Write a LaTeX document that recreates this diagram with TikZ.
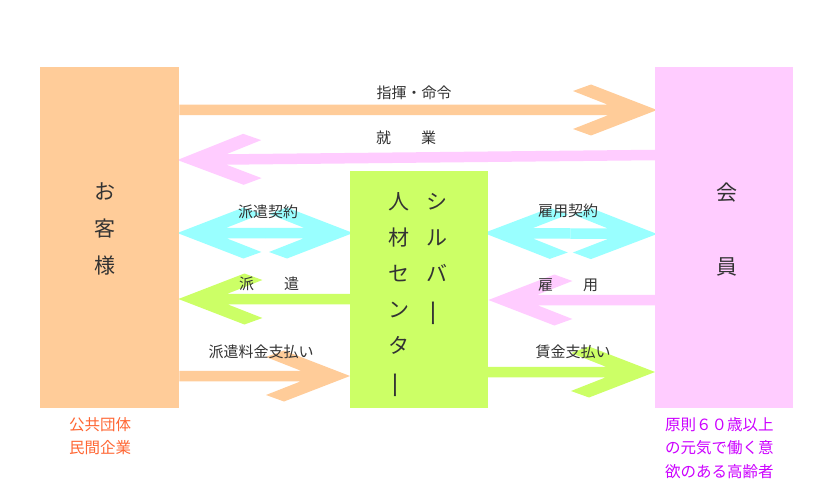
\documentclass[tikz,border=0pt]{standalone}
\usepackage{fontspec}
\setmainfont{Noto Sans CJK JP}
\usepackage{graphicx}
\usetikzlibrary{calc}
\pgfdeclarelayer{back}
\pgfdeclarelayer{arrows}
\pgfsetlayers{back,arrows,main}
\definecolor{peach}{HTML}{FFCC99}
\definecolor{pinkb}{HTML}{FFCCFF}
\definecolor{greenb}{HTML}{CCFF66}
\definecolor{cyanb}{HTML}{99FFFF}
\definecolor{txt}{HTML}{333333}
\definecolor{orangetxt}{HTML}{FF6633}
\definecolor{purpletxt}{HTML}{CC00FF}
% fat arrow: colour, tail coordinate, tip coordinate
\newcommand\fatarr[3]{%
  \fill[#1] ($(#2)!5.25pt!-90:(#3)$)
    -- ($(#3)!49pt!(#2)!5.25pt!90:(#2)$)
    -- ($(#3)!84pt!(#2)!19pt!90:(#2)$)
    -- ($(#3)!66pt!(#2)!25.5pt!90:(#2)$)
    -- (#3)
    -- ($(#3)!66pt!(#2)!25.5pt!-90:(#2)$)
    -- ($(#3)!84pt!(#2)!19pt!-90:(#2)$)
    -- ($(#3)!49pt!(#2)!5.25pt!-90:(#2)$)
    -- ($(#2)!5.25pt!90:(#3)$) -- cycle;}
\newcommand\vbar{\rotatebox[origin=c]{90}{\scalebox{1.35}[1]{ー}}}
\begin{document}
\begin{tikzpicture}[x=1pt,y=-1pt,
  boxst/.style={draw=none,inner sep=0pt,anchor=north west},
  lbl/.style={text=txt,font=\fontsize{15}{18}\selectfont,inner sep=0pt},
  bigtxt/.style={text=txt,font=\fontsize{21}{36}\selectfont,inner sep=0pt,align=center,anchor=north},
  note/.style={font=\fontsize{15.5}{23.5}\selectfont,inner sep=0pt,align=left,anchor=north west}]
\begin{pgfonlayer}{back}
\useasboundingbox[fill=white] (0,0) rectangle (825,500);
\end{pgfonlayer}
% boxes
\node[boxst,fill=peach,minimum width=139pt,minimum height=341pt] (kyaku) at (40,67) {};
\node[boxst,fill=pinkb,minimum width=138pt,minimum height=341pt] (kaiin) at (655,67) {};
\node[boxst,fill=greenb,minimum width=137.5pt,minimum height=237pt] (center) at (350,171) {};
% arrow end points
\coordinate (s1) at ($(kyaku.north east)+(0,43)$);
\coordinate (t1) at ($(kaiin.north west)+(2,43)$);
\coordinate (s2) at ($(kaiin.north west)+(0,88)$);
\coordinate (t2) at ($(kyaku.north east)+(-2,93)$);
\coordinate (l3) at ($(kyaku.north east)+(-2,166)$);
\coordinate (r3) at ($(center.north west)+(3,62)$);
\coordinate (m3) at ($(l3)!.5!(r3)$);
\coordinate (s4) at ($(center.north west)+(0,128)$);
\coordinate (t4) at ($(kyaku.north east)+(-1,232)$);
\coordinate (l5) at ($(center.north east)+(-4,62)$);
\coordinate (r5) at ($(kaiin.north west)+(2,167)$);
\coordinate (m5) at ($(l5)!.5!(r5)$);
\coordinate (s6) at ($(kaiin.north west)+(0,233)$);
\coordinate (t6) at ($(center.north east)+(0.5,129)$);
\coordinate (s7) at ($(kyaku.north east)+(0,309)$);
\coordinate (t7) at ($(center.north west)+(0,205)$);
\coordinate (s8) at ($(center.north east)+(0,201)$);
\coordinate (t8) at ($(kaiin.north west)+(0,305)$);
% arrows (under the boxes)
\begin{pgfonlayer}{arrows}
\fatarr{peach}{s1}{t1}
\fatarr{pinkb}{s2}{t2}
\fatarr{cyanb}{m3}{l3}
\fatarr{cyanb}{m3}{r3}
\fatarr{greenb}{s4}{t4}
\fatarr{cyanb}{m5}{l5}
\fatarr{cyanb}{m5}{r5}
\fatarr{pinkb}{s6}{t6}
\fatarr{peach}{s7}{t7}
\fatarr{greenb}{s8}{t8}
\end{pgfonlayer}
% arrow labels
\node[lbl] (lab1) at (414,93) {指揮・命令};
\node[lbl] (lab2) at (406,138) {就　　業};
\node[lbl] (lab3) at (268,212) {派遣契約};
\node[lbl] (lab5) at (568,211) {雇用契約};
\node[lbl] (lab4) at (269,284) {派　　遣};
\node[lbl] (lab6) at (568,285) {雇　　用};
\node[lbl] (lab7) at (261,352) {派遣料金支払い};
\node[lbl] (lab8) at (573,352) {賃金支払い};
% box texts
\node[bigtxt,font=\fontsize{21}{37}\selectfont] (kyakutxt) at (105,182.5) {お\\客\\様};
\node[bigtxt,font=\fontsize{21}{37}\selectfont] (kaiintxt) at (727,182.5) {会\\\mbox{}\\員};
\node[bigtxt] (col1) at (437,193.5) {シ\\ル\\バ\\\vbar};
\node[bigtxt] (col2) at (399,192.5) {人\\材\\セ\\ン\\タ\\\vbar};
% notes
\node[note,text=orangetxt] (note1) at (69,417) {公共団体\\民間企業};
\node[note,text=purpletxt] (note2) at (665,417) {原則６０歳以上\\の元気で働く意\\欲のある高齢者};
\end{tikzpicture}
\end{document}
